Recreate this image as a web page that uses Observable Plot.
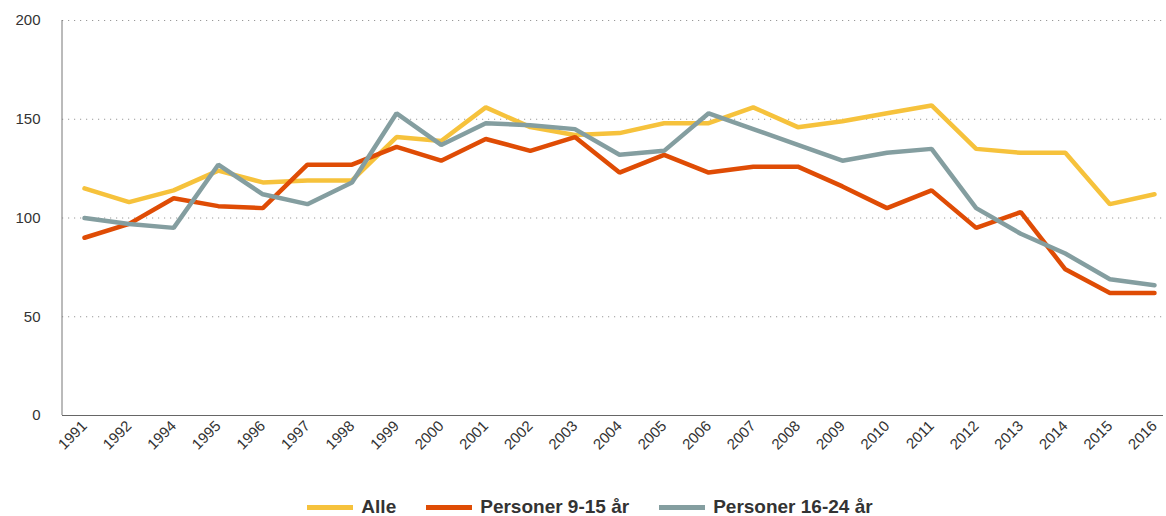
<!DOCTYPE html>
<html>
<head>
<meta charset="utf-8">
<script src="https://cdn.jsdelivr.net/npm/d3@7"></script>
<script src="https://cdn.jsdelivr.net/npm/@observablehq/plot@0.6"></script>
<style>
  body { margin: 0; background: #fff; font-family: "Liberation Sans", Arial, sans-serif; }
  #legend { display: flex; justify-content: center; align-items: center; margin-top: 21px; padding-left: 14px; font-weight: bold; font-size: 19px; color: #333; }
  .item { display: flex; align-items: center; margin: 0 15px; }
  .sw { width: 46px; height: 5px; margin-right: 8px; }
  svg text { font-size: 15px; }
</style>
</head>
<body>
<div id="chart"></div>
<div id="legend"></div>
<script>
const years = ["1991","1992","1994","1995","1996","1997","1998","1999","2000","2001","2002","2003","2004","2005","2006","2007","2008","2009","2010","2011","2012","2013","2014","2015","2016"];
const alle =     [115,108,114,124,118,119,119,141,139,156,146,142,143,148,148,156,146,149,153,157,135,133,133,107,112];
const pers9_15 = [90,97,110,106,105,127,127,136,129,140,134,141,123,132,123,126,126,116,105,114,95,103,74,62,62];
const pers16_24 =[100,97,95,127,112,107,118,153,137,148,147,145,132,134,153,145,137,129,133,135,105,92,82,69,66];
const seriesNames = ["Alle","Personer 9-15 år","Personer 16-24 år"];
const seriesColors = ["#f6c23c","#df4c05","#849ea0"];
const yTicks = [0,50,100,150,200];

const allSeries = [alle, pers9_15, pers16_24];
const data = [];
allSeries.forEach((vals, si) => vals.forEach((v, i) => data.push({year: years[i], value: v, series: seriesNames[si]})));

const yAxisLine = (index, scales, values, dims) => {
  const g = d3.create("svg:g");
  g.append("line")
    .attr("x1", dims.marginLeft).attr("x2", dims.marginLeft)
    .attr("y1", scales.y(200)).attr("y2", scales.y(0))
    .attr("stroke", "#777").attr("stroke-width", 1);
  return g.node();
};

const chart = Plot.plot({
  width: 1166,
  height: 475,
  marginLeft: 62,
  marginRight: 3,
  marginTop: 20,
  marginBottom: 60,
  style: { fontFamily: "Liberation Sans, Arial, sans-serif", fontSize: "15px", color: "#333", background: "#fff" },
  x: { type: "point", domain: years, padding: 0, round: false, insetLeft: 22, insetRight: 9 },
  y: { domain: [0, 200], range: [415, 20] },
  color: { domain: seriesNames, range: seriesColors },
  marks: [
    Plot.gridY(yTicks.filter(t => t > 0), { stroke: "#999", strokeOpacity: 1, strokeDasharray: "1.2,4.8" }),
    Plot.ruleY([0], { stroke: "#666" }),
    yAxisLine,
    Plot.axisY({ ticks: yTicks, tickSize: 0, tickPadding: 22, fontSize: 16, label: null, fill: "#333" }),
    Plot.axisX({ tickSize: 0, tickRotate: -45, tickPadding: 8, fontSize: 15, label: null, fill: "#333" }),
    Plot.line(data, { x: "year", y: "value", z: "series", stroke: "series", strokeWidth: 4.5, strokeLinejoin: "miter", strokeLinecap: "round" })
  ]
});
document.getElementById("chart").appendChild(chart);

const legend = document.getElementById("legend");
seriesNames.forEach((n, i) => {
  const it = document.createElement("div"); it.className = "item";
  const sw = document.createElement("div"); sw.className = "sw"; sw.style.background = seriesColors[i];
  const t = document.createElement("span"); t.textContent = n;
  it.appendChild(sw); it.appendChild(t); legend.appendChild(it);
});
</script>
</body>
</html>
